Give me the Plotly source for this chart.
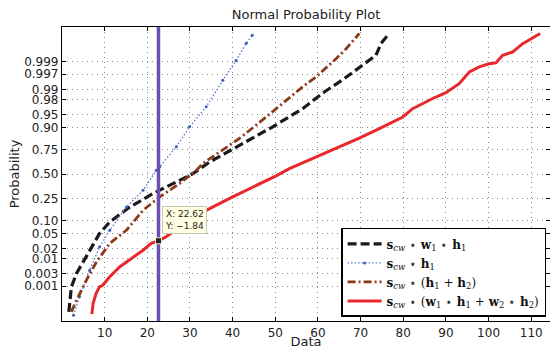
import plotly.graph_objects as go
from statistics import NormalDist

# ---- data (y values are standard-normal quantiles of the probability) ----
red_x = [7.0, 7.3, 8.0, 8.8, 9.6, 11.2, 13.5, 15.9, 19.0, 20.9, 22.62, 24.4, 32.3, 40.0, 50.2,
         53.3, 64.3, 69.7, 74.4, 76.7, 79.9, 82.2, 86.9, 90.0, 92.4, 93.1, 95.5, 97.8, 100.2,
         101.7, 103.3, 105.6, 108.0, 112.1]
red_y = [-3.86, -3.56, -3.29, -3.11, -3.06, -2.83, -2.56, -2.37, -2.10, -1.91, -1.84, -1.73,
         -1.09, -0.63, -0.05, 0.15, 0.70, 0.99, 1.25, 1.39, 1.57, 1.80, 2.08, 2.24, 2.45, 2.49,
         2.81, 2.95, 3.04, 3.06, 3.27, 3.36, 3.59, 3.87]

black_x = [1.6, 2.2, 3.4, 5.7, 8.8, 11.2, 15.9, 21.3, 25.2, 30.7, 34.6, 41.6, 49.4, 56.4,
           61.5, 66.2, 71.3, 73.6, 74.8, 76.7]
black_y = [-3.80, -3.11, -2.74, -2.28, -1.64, -1.32, -0.91, -0.54, -0.31, 0.01, 0.33, 0.79,
           1.30, 1.80, 2.26, 2.63, 3.09, 3.27, 3.60, 3.87]

blue_x = [2.7, 4.1, 6.5, 8.8, 11.2, 15.1, 19.0, 22.1, 22.9, 26.8, 29.9, 33.8, 37.7, 40.8,
          43.2, 44.6]
blue_y = [-3.89, -3.38, -2.65, -2.01, -1.55, -0.91, -0.45, 0.10, 0.20, 0.75, 1.30, 1.85,
          2.58, 3.13, 3.60, 3.82]

brown_x = [2.2, 3.4, 5.7, 8.1, 11.2, 15.1, 19.0, 22.9, 27.6, 31.5, 33.0, 37.7, 41.6, 46.3,
           51.0, 54.1, 56.4, 59.6, 61.9, 64.3, 66.6, 69.7]
brown_y = [-3.80, -3.48, -2.93, -2.42, -1.91, -1.55, -1.00, -0.63, -0.26, 0.10, 0.29, 0.66,
           0.98, 1.42, 1.88, 2.16, 2.40, 2.68, 2.92, 3.18, 3.45, 3.87]

prob_ticks = ["0.001", "0.003", "0.01", "0.02", "0.05", "0.10", "0.25", "0.50", "0.75",
              "0.90", "0.95", "0.98", "0.99", "0.997", "0.999"]
x_ticks = [10, 20, 30, 40, 50, 60, 70, 80, 90, 100, 110]

cursor_x = 22.62
cursor_y = -1.84

names = [
    "<b>s</b><sub><i>cw</i></sub> ⋆ <b>w</b><sub>1</sub> ⋆ <b>h</b><sub>1</sub>",
    "<b>s</b><sub><i>cw</i></sub> ⋆ <b>h</b><sub>1</sub>",
    "<b>s</b><sub><i>cw</i></sub> ⋆ (<b>h</b><sub>1</sub> + <b>h</b><sub>2</sub>)",
    "<b>s</b><sub><i>cw</i></sub> ⋆ (<b>w</b><sub>1</sub> ⋆ <b>h</b><sub>1</sub> + "
    "<b>w</b><sub>2</sub> ⋆ <b>h</b><sub>2</sub>)",
]

nd = NormalDist()
tickvals = [nd.inv_cdf(float(p)) for p in prob_ticks]

fig = go.Figure()
fig.add_trace(go.Scatter(x=black_x, y=black_y, mode="lines", name=names[0],
                         line=dict(color="#1a1a1a", width=3.2, dash="9px,4px")))
fig.add_trace(go.Scatter(x=blue_x, y=blue_y, mode="lines+markers", name=names[1],
                         line=dict(color="#5b7fd4", width=1.4, dash="1.5px,2px"),
                         marker=dict(size=3, color="#3a5cc0")))
fig.add_trace(go.Scatter(x=brown_x, y=brown_y, mode="lines", name=names[2],
                         line=dict(color="#8b3a18", width=2.8, dash="8px,3px,2px,3px")))
fig.add_trace(go.Scatter(x=red_x, y=red_y, mode="lines", name=names[3],
                         line=dict(color="#e8282c", width=3)))
# vertical cursor line
fig.add_trace(go.Scatter(x=[cursor_x, cursor_x], y=[-4.2, 4.2], mode="lines",
                         line=dict(color="#6b4fb3", width=3.5), showlegend=False,
                         hoverinfo="skip"))
# data tip marker
fig.add_trace(go.Scatter(x=[cursor_x], y=[cursor_y], mode="markers", showlegend=False,
                         marker=dict(symbol="square", size=6, color="#222222",
                                     line=dict(color="#f3eec0", width=1))))

fig.add_annotation(x=cursor_x, y=cursor_y, xref="x", yref="y",
                   text=f"X: {cursor_x:.2f}<br>Y: {cursor_y:.2f}".replace("-", "−"),
                   showarrow=False, xanchor="left", yanchor="bottom", xshift=4, yshift=7,
                   align="left", bgcolor="#ffffe1", bordercolor="#c8c8b0", borderwidth=1,
                   borderpad=2, font=dict(family="DejaVu Sans", size=9, color="#222"))

axis_common = dict(showline=True, linecolor="black", linewidth=1.2, mirror="ticks",
                   ticks="inside", ticklen=4, tickcolor="black", showgrid=True,
                   gridcolor="#8a8a8a", griddash="1px,4px", gridwidth=1, zeroline=False,
                   automargin=False,
                   tickfont=dict(family="DejaVu Sans", size=12, color="#222"))

fig.update_layout(
    template="none",
    width=550, height=349,
    margin=dict(l=62, r=0, t=27, b=28, pad=0),
    paper_bgcolor="white", plot_bgcolor="white",
    title=dict(text="Normal Probability Plot", x=306 / 550, xanchor="center",
               y=1 - 14 / 349, yanchor="middle",
               font=dict(family="DejaVu Sans", size=13, color="#222")),
    xaxis=dict(range=[0, 114.4], tickvals=x_ticks,
               title=dict(text="Data", standoff=0,
                          font=dict(family="DejaVu Sans", size=13, color="#222")),
               **axis_common),
    yaxis=dict(range=[-4.05, 4.05], tickvals=tickvals, ticktext=prob_ticks,
               title=dict(text="Probability", standoff=1,
                          font=dict(family="DejaVu Sans", size=13, color="#222")),
               **axis_common),
    legend=dict(x=0.992, y=0.014, xanchor="right", yanchor="bottom",
                bgcolor="white", bordercolor="black", borderwidth=1.5,
                font=dict(family="DejaVu Serif", size=12, color="#111"),
                tracegroupgap=0, itemwidth=34),
    showlegend=True,
)

fig.write_html("out.html", config={"displayModeBar": False},
               post_script="document.body.style.margin='0';document.body.style.padding='0';")
